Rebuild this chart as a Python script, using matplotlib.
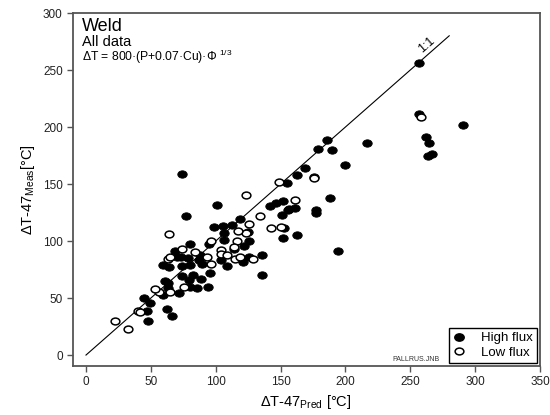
import matplotlib
matplotlib.use("Agg")
import matplotlib.pyplot as plt
from matplotlib.path import Path
from matplotlib.transforms import Affine2D
from matplotlib.lines import Line2D

plt.rcParams['font.family'] = ['Liberation Sans', 'DejaVu Sans']
plt.rcParams['mathtext.fontset'] = 'custom'
plt.rcParams['mathtext.rm'] = 'Liberation Sans'
plt.rcParams['mathtext.it'] = 'Liberation Sans'
plt.rcParams['mathtext.bf'] = 'Liberation Sans'

# ---- data ----
high_x = [257, 291, 262, 264.5, 264, 267, 217, 186, 179, 190, 200, 169, 163, 155, 74, 101, 77, 188,
          142, 146.5, 152, 156.6, 161.5, 151, 156, 177, 177.6, 152.8, 151.7, 162.6, 194, 136, 136,
          118.8, 125, 125.5, 112.5, 105.4, 98.6, 106.5, 106.5, 122, 113.8, 94.5, 121, 125.9, 104.3,
          109, 95.6, 94, 89, 82.5, 85.8, 88, 87, 89.6, 80, 80, 69, 70, 73.5, 79, 74, 74, 79.5, 80,
          72, 59, 64, 61, 63.5, 63, 59, 45, 49, 47, 47.7, 62.7, 66, 257, 176]
high_y = [256, 202, 191.5, 186, 175, 176, 186, 189, 181, 180, 167, 164, 158, 151, 159, 132, 122, 138,
          131, 133, 135, 128, 129, 123, 127, 125, 127, 111, 103, 105, 91, 88, 70,
          119, 108, 100, 114, 113.5, 112, 107, 101, 95.6, 93, 97, 82, 86, 83,
          78, 72, 60, 67, 70, 59, 88, 83, 80, 97, 79, 91, 86, 86, 85, 78, 69, 66, 60,
          54, 79, 77, 65, 63, 59, 53, 50, 46, 39, 29.6, 40.8, 34.6, 211, 156.5]

low_x = [258, 176, 149, 123, 161.5, 134, 150.6, 142.7, 126, 123, 117, 116.6, 113.8, 96.7, 104, 104,
         108.4, 114.7, 118.8, 128.6, 93, 96.7, 84, 74, 75.7, 63, 65, 64, 65, 56, 53, 40, 42, 22.6, 32]
low_y = [209, 155, 152, 140, 136, 122, 112, 111, 115, 107, 109, 100, 95, 100, 92, 89,
         88, 84, 86, 84, 86, 80, 90, 93, 60, 84.5, 86, 106, 55, 55.5, 58, 39, 37.5, 29.6, 22.6]

line_x = [0, 280]
line_y = [0, 280]

x_ticks = [0, 50, 100, 150, 200, 250, 300, 350]
y_ticks = [0, 50, 100, 150, 200, 250, 300]

# ---- figure ----
fig = plt.figure(figsize=(5.5, 4.15), dpi=100)
ax = fig.add_axes([72.5/550, 1-366/415, (540-72.5)/550, (366-13)/415])

ellipse = Path.unit_circle().transformed(Affine2D().scale(1.0, 0.78))

ax.plot(line_x, line_y, color='black', lw=0.8, zorder=2)
ax.plot(high_x, high_y, linestyle='none', marker=ellipse, ms=6.8, mfc='black', mec='black',
        mew=0.6, zorder=3)
ax.plot(low_x, low_y, linestyle='none', marker=ellipse, ms=6.3, mfc='white', mec='black',
        mew=1.1, zorder=4)

ax.set_xlim(-10.4, 350)
ax.set_ylim(-9.6, 300)
ax.set_xticks(x_ticks)
ax.set_yticks(y_ticks)
ax.tick_params(direction='out', length=4, width=1.0, color='#555555', labelsize=8.5,
               labelcolor='#222222', pad=3)
for s in ax.spines.values():
    s.set_color('#555555')
    s.set_linewidth(1.3)

ax.set_xlabel(r"$\Delta$T-47$_{\mathrm{Pred}}$ [°C]", fontsize=10.5, labelpad=4)
ax.set_ylabel(r"$\Delta$T-47$_{\mathrm{Meas}}$[°C]", fontsize=10.5, labelpad=4)

ax.text(0.02, 0.949, "Weld", transform=ax.transAxes, fontsize=13, va='baseline')
ax.text(0.02, 0.906, "All data", transform=ax.transAxes, fontsize=10.5, va='baseline')
ax.text(0.02, 0.864, "ΔT = 800·(P+0.07·Cu)·Φ $^{1/3}$", transform=ax.transAxes,
        fontsize=8.7, va='baseline')

ax.text(263, 272, "1:1", rotation=41, fontsize=9, ha='center', va='center')

ax.text(0.735, 0.018, "PALLRUS.JNB", transform=ax.transAxes, fontsize=5,
        ha='center', va='center', color='#333333')

handles = [Line2D([], [], linestyle='none', marker=ellipse, ms=6.8, mfc='black', mec='black'),
           Line2D([], [], linestyle='none', marker=ellipse, ms=6.3, mfc='white', mec='black',
                  mew=1.1)]
leg = ax.legend(handles, ["High flux", "Low flux"], loc='lower right',
                bbox_to_anchor=(0.994, 0.0085), borderaxespad=0, fontsize=9.5,
                fancybox=False, framealpha=1, edgecolor='black', handlelength=1.0,
                handletextpad=1.2, borderpad=0.3, labelspacing=0.2)
leg.get_frame().set_linewidth(1.0)

fig.savefig("out.png", dpi=100)
